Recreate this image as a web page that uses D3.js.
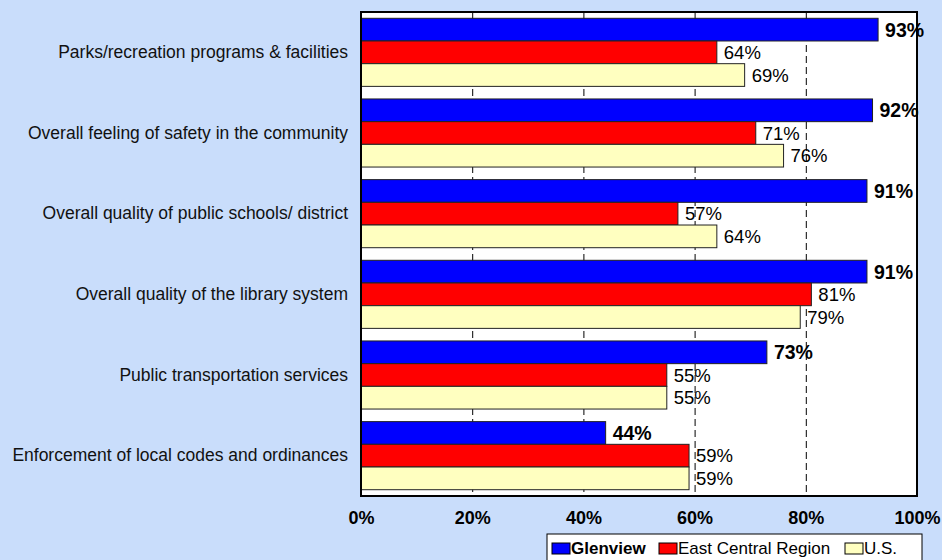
<!DOCTYPE html>
<html>
<head>
<meta charset="utf-8">
<script src="https://cdn.jsdelivr.net/npm/d3@7"></script>
<style>
  html, body { margin: 0; padding: 0; background: #c9ddfb; }
  svg { display: block; font-family: "Liberation Sans", Arial, sans-serif; }
</style>
</head>
<body>
<svg id="chart" width="942" height="560"></svg>
<script>
// Survey items, top to bottom
const categories = [
  "Parks/recreation programs & facilities",
  "Overall feeling of safety in the community",
  "Overall quality of public schools/ district",
  "Overall quality of the library system",
  "Public transportation services",
  "Enforcement of local codes and ordinances"
];
const seriesNames = ["Glenview", "East Central Region", "U.S."];
const glenview = [93, 92, 91, 91, 73, 44];
const eastCentral = [64, 71, 57, 81, 55, 59];
const usValues = [69, 76, 64, 79, 55, 59];
const tickValues = [0, 20, 40, 60, 80, 100];
const colors = ["#0000ff", "#ff0000", "#ffffc0"];

const seriesValues = [glenview, eastCentral, usValues];

const svg = d3.select("#chart");
const plot = { left: 361, right: 917, top: 12, bottom: 496 };

const x = d3.scaleLinear().domain([0, 100]).range([plot.left, plot.right]);
const y = d3.scaleBand().domain(categories).range([plot.top, plot.bottom])
  .paddingInner(0.156).paddingOuter(0.078);
const ySub = d3.scaleBand().domain(seriesNames).range([0, y.bandwidth()]);

// plot area background
svg.append("rect")
  .attr("x", plot.left).attr("y", plot.top)
  .attr("width", plot.right - plot.left).attr("height", plot.bottom - plot.top)
  .attr("fill", "#ffffff");

// dashed vertical gridlines
svg.append("g")
  .selectAll("line")
  .data(tickValues.filter(t => t > 0 && t < 100))
  .join("line")
  .attr("x1", d => x(d) + 0.5).attr("x2", d => x(d) + 0.5)
  .attr("y1", plot.top).attr("y2", plot.bottom)
  .attr("stroke", "#000")
  .attr("stroke-width", 1)
  .attr("stroke-dasharray", "7,4");

// bars with value labels
const groups = svg.append("g")
  .selectAll("g")
  .data(categories)
  .join("g")
  .attr("transform", d => `translate(0,${y(d)})`);

groups.each(function (cat, i) {
  const g = d3.select(this);
  seriesNames.forEach((s, j) => {
    const v = seriesValues[j][i];
    g.append("rect")
      .attr("x", x(0))
      .attr("y", ySub(s))
      .attr("width", x(v) - x(0))
      .attr("height", ySub.bandwidth())
      .attr("fill", colors[j])
      .attr("stroke", "#222")
      .attr("stroke-width", 1);
  });
});

groups.each(function (cat, i) {
  const g = d3.select(this);
  seriesNames.forEach((s, j) => {
    const v = seriesValues[j][i];
    g.append("text")
      .attr("x", x(v) + 7)
      .attr("y", ySub(s) + ySub.bandwidth() / 2)
      .attr("dy", "0.36em")
      .attr("font-size", j === 0 ? 19.5 : 18.5)
      .attr("font-weight", j === 0 ? "bold" : "normal")
      .attr("fill", "#000")
      .text(v + "%");
  });
});

// plot frame
svg.append("rect")
  .attr("x", plot.left).attr("y", plot.top)
  .attr("width", plot.right - plot.left).attr("height", plot.bottom - plot.top)
  .attr("fill", "none")
  .attr("stroke", "#000")
  .attr("stroke-width", 2);

// category axis labels
const yAxis = d3.axisLeft(y).tickSize(0).tickPadding(13);
const yG = svg.append("g").attr("transform", `translate(${plot.left},0)`).call(yAxis);
yG.select(".domain").remove();
yG.selectAll("text")
  .attr("font-size", 17.5)
  .attr("font-family", "'Liberation Sans', Arial, sans-serif")
  .attr("fill", "#111");

// value axis labels
const xAxis = d3.axisBottom(x).tickValues(tickValues).tickFormat(d => d + "%").tickSize(0).tickPadding(15);
const xG = svg.append("g").attr("transform", `translate(0,${plot.bottom})`).call(xAxis);
xG.select(".domain").remove();
xG.selectAll("text")
  .attr("font-size", 18)
  .attr("font-weight", "bold")
  .attr("font-family", "'Liberation Sans', Arial, sans-serif")
  .attr("fill", "#000");

// legend
const legend = svg.append("g").attr("transform", "translate(547,534)");
legend.append("rect")
  .attr("x", 0).attr("y", 0).attr("width", 375).attr("height", 30)
  .attr("fill", "#ffffff").attr("stroke", "#000").attr("stroke-width", 1);
const legendX = [5, 112, 298];
seriesNames.forEach((s, j) => {
  const item = legend.append("g").attr("transform", `translate(${legendX[j]},0)`);
  item.append("rect")
    .attr("x", 0).attr("y", 9).attr("width", 18).attr("height", 11)
    .attr("fill", colors[j]).attr("stroke", "#000").attr("stroke-width", 1);
  item.append("text")
    .attr("x", 19).attr("y", 20)
    .attr("font-size", 17)
    .attr("font-weight", j === 0 ? "bold" : "normal")
    .attr("fill", "#000")
    .text(s);
});
</script>
</body>
</html>
